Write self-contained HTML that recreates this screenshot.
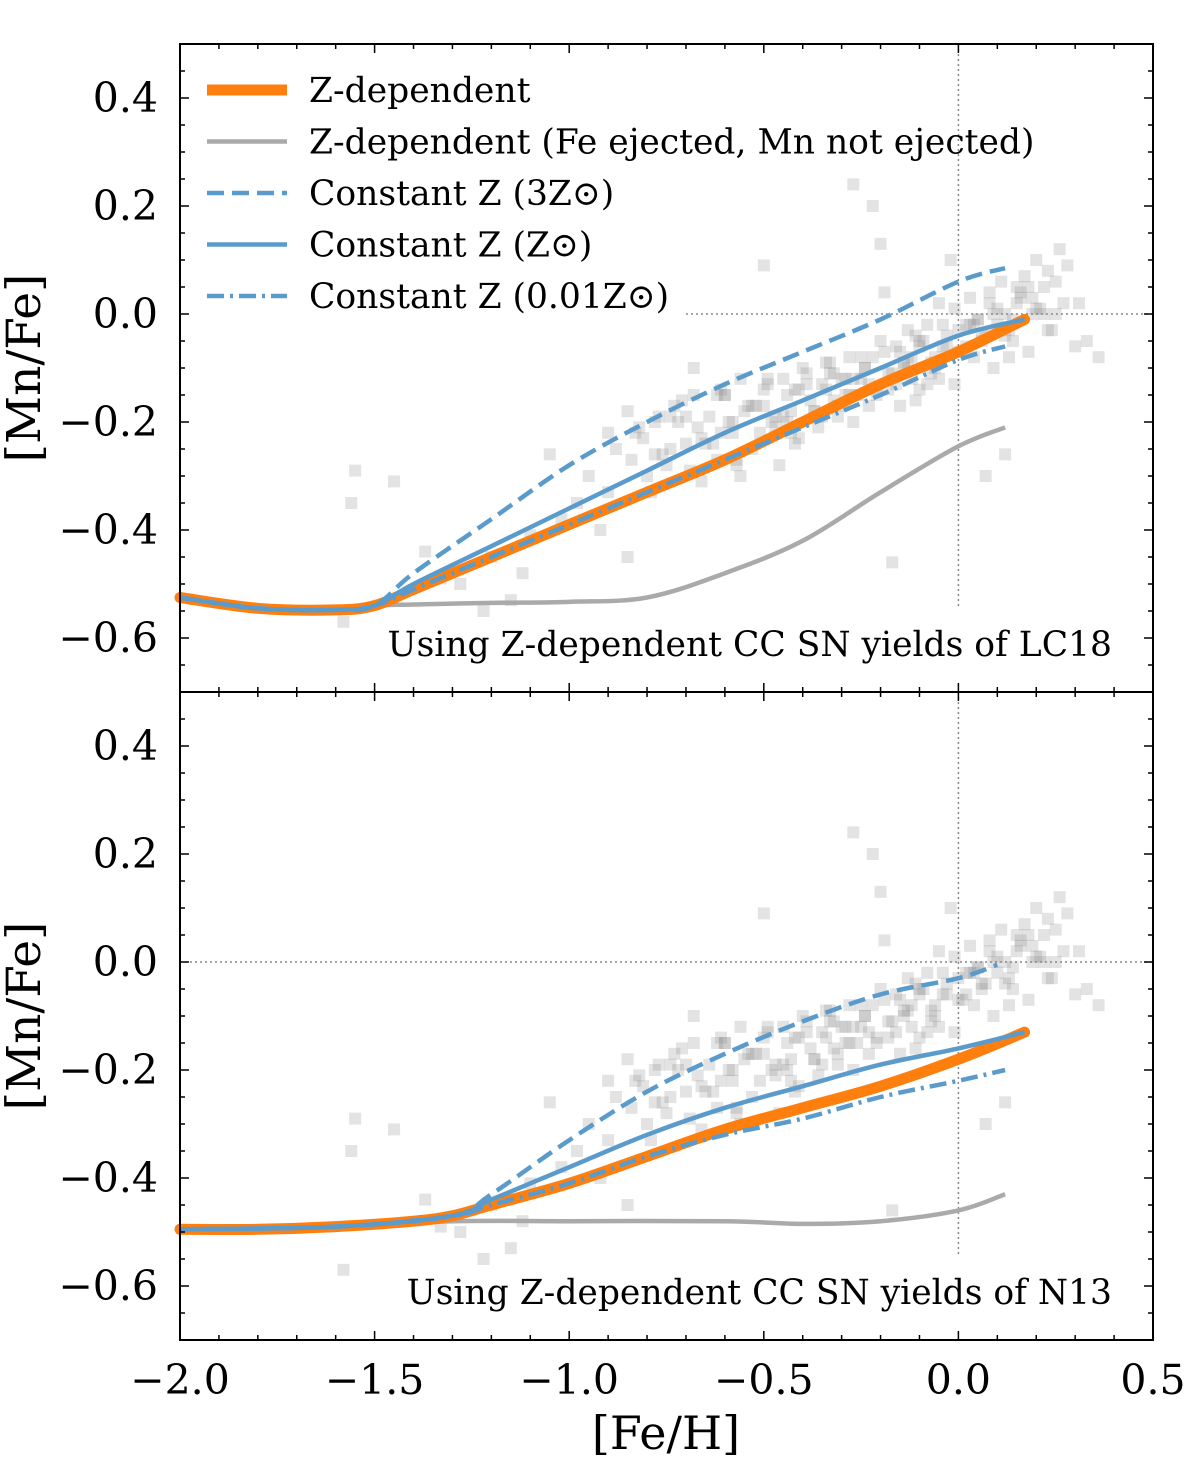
<!DOCTYPE html>
<html><head><meta charset="utf-8"><style>
body{margin:0;background:#fff}
svg text{font-family:"DejaVu Serif","Liberation Serif",serif;fill:#000}
</style></head><body>
<svg id="chart" width="1200" height="1472" viewBox="0 0 1200 1472" xmlns="http://www.w3.org/2000/svg"></svg>
<script>
const xTicks=[-2.0,-1.5,-1.0,-0.5,0.0,0.5];
const xTickLabels=["\u22122.0","\u22121.5","\u22121.0","\u22120.5","0.0","0.5"];
const yTicks=[0.4,0.2,0.0,-0.2,-0.4,-0.6];
const yTickLabels=["0.4","0.2","0.0","\u22120.2","\u22120.4","\u22120.6"];
const starFe=[-1.58,-1.56,-1.55,-1.45,-1.37,-1.33,-1.28,-1.22,-1.2,-1.15,-1.12,-1.1,-1.05,-1.02,-0.98,-0.95,-0.92,-0.9,-0.88,-0.85,-0.83,-0.8,-0.78,-0.75,-0.73,-0.7,-0.68,-0.66,-0.64,-0.62,-0.6,-0.58,-0.56,-0.55,-0.53,-0.5,-0.48,-0.46,-0.45,-0.43,-0.41,-0.4,-0.38,-0.36,-0.35,-0.33,-0.31,-0.3,-0.28,-0.27,-0.25,-0.23,-0.22,-0.2,-0.18,-0.17,-0.15,-0.13,-0.12,-0.1,-0.08,-0.07,-0.05,-0.04,-0.02,0.0,0.01,0.03,0.05,0.06,0.08,0.1,0.11,0.13,0.15,0.17,0.19,0.2,0.22,0.24,0.26,0.28,0.3,0.31,0.33,0.36,-0.27,-0.2,-0.19,-0.5,-0.15,-0.9,-0.85,-0.78,-0.72,-0.65,-0.6,-0.52,-0.47,-0.42,-0.35,-0.32,-0.26,-0.24,-0.16,-0.11,-0.06,-0.01,0.04,0.09,0.14,0.18,0.25,0.12,-0.1,0.07,
-0.84,-0.82,-0.79,-0.77,-0.74,-0.71,-0.69,-0.67,-0.63,-0.61,-0.59,-0.57,-0.54,-0.51,-0.49,-0.47,-0.44,-0.42,-0.39,-0.37,-0.34,-0.32,-0.29,-0.27,-0.24,-0.21,-0.19,-0.16,-0.14,-0.11,-0.09,-0.06,-0.03,-0.01,0.02,0.04,0.07,0.09,0.12,0.14,0.16,0.18,0.21,0.23,0.25,0.27,
-0.81,-0.76,-0.7,-0.66,-0.62,-0.58,-0.53,-0.49,-0.45,-0.41,-0.37,-0.33,-0.29,-0.25,-0.22,-0.18,-0.14,-0.1,-0.07,-0.03,0.0,0.03,0.06,0.1,0.13,0.16,0.2,0.23,
-0.74,-0.68,-0.61,-0.56,-0.5,-0.44,-0.39,-0.34,-0.28,-0.23,-0.17,-0.12,-0.08,-0.04,0.02,0.05,0.08,0.12,0.15,0.19,0.22,-0.57,-0.43,-0.31,-0.21,-0.13,-0.05];
const starMn=[-0.57,-0.35,-0.29,-0.31,-0.44,-0.49,-0.5,-0.55,-0.45,-0.53,-0.48,-0.41,-0.26,-0.38,-0.35,-0.3,-0.4,-0.33,-0.25,-0.45,-0.22,-0.3,-0.2,-0.28,-0.17,-0.24,-0.1,-0.31,-0.19,-0.27,-0.15,-0.22,-0.3,-0.18,-0.25,-0.14,-0.2,-0.28,-0.12,-0.18,-0.23,-0.1,-0.16,-0.21,-0.13,-0.09,-0.19,-0.12,-0.15,0.24,-0.08,-0.13,0.2,-0.05,-0.11,-0.46,-0.07,-0.03,-0.12,-0.05,-0.02,-0.09,0.02,-0.06,0.1,-0.03,-0.07,0.03,-0.01,-0.04,0.04,-0.02,0.06,-0.08,0.02,0.07,0.0,0.1,0.05,-0.03,0.12,0.09,-0.06,0.02,-0.05,-0.08,-0.12,0.13,0.04,0.09,-0.17,-0.22,-0.18,-0.26,-0.2,-0.24,-0.15,-0.17,-0.21,-0.14,-0.19,-0.11,-0.15,-0.1,-0.06,-0.04,-0.08,0.01,-0.02,0.0,-0.01,0.05,0.0,-0.26,-0.14,-0.3,
-0.27,-0.21,-0.33,-0.19,-0.25,-0.16,-0.29,-0.21,-0.24,-0.14,-0.2,-0.27,-0.17,-0.22,-0.12,-0.19,-0.15,-0.24,-0.13,-0.18,-0.09,-0.16,-0.12,-0.2,-0.1,-0.15,-0.07,-0.13,-0.09,-0.16,-0.05,-0.1,-0.06,-0.13,-0.02,-0.08,-0.04,-0.1,0.0,-0.05,0.03,-0.07,0.01,-0.03,0.06,0.02,
-0.23,-0.26,-0.19,-0.23,-0.15,-0.2,-0.17,-0.13,-0.19,-0.14,-0.18,-0.11,-0.15,-0.12,-0.08,-0.14,-0.1,-0.06,-0.11,-0.04,-0.07,-0.02,-0.05,0.01,-0.03,0.04,0.01,0.08,
-0.19,-0.15,-0.22,-0.12,-0.17,-0.2,-0.11,-0.14,-0.08,-0.17,-0.11,-0.08,-0.13,-0.02,-0.06,-0.01,0.02,-0.04,0.05,0.03,0.0,-0.28,-0.22,-0.17,-0.14,-0.09,-0.12];
const topX=[-2.0,-1.8,-1.6,-1.5,-1.4,-1.2,-1.0,-0.8,-0.6,-0.4,-0.2,0.0,0.17];
const topZdep=[-0.525,-0.545,-0.548,-0.54,-0.51,-0.45,-0.39,-0.33,-0.27,-0.2,-0.13,-0.07,-0.01];
const topGrayX=[-2.0,-1.8,-1.6,-1.5,-1.4,-1.2,-1.0,-0.8,-0.6,-0.4,-0.2,0.0,0.12];
const topGray=[-0.525,-0.545,-0.548,-0.54,-0.538,-0.535,-0.533,-0.525,-0.48,-0.42,-0.33,-0.245,-0.21];
const topBlueX=[-2.0,-1.8,-1.6,-1.5,-1.4,-1.2,-1.0,-0.8,-0.6,-0.4,-0.2,0.0,0.12];
const top3Z=[-0.525,-0.545,-0.548,-0.54,-0.48,-0.38,-0.28,-0.2,-0.13,-0.07,-0.01,0.06,0.085];
const topZsunX=[-2.0,-1.8,-1.6,-1.5,-1.4,-1.2,-1.0,-0.8,-0.6,-0.4,-0.2,0.0,0.17];
const topZsun=[-0.525,-0.545,-0.548,-0.54,-0.5,-0.43,-0.36,-0.29,-0.22,-0.16,-0.1,-0.04,-0.01];
const top001Z=[-0.525,-0.545,-0.548,-0.54,-0.51,-0.45,-0.39,-0.33,-0.27,-0.21,-0.15,-0.085,-0.06];
const botX=[-2.0,-1.8,-1.6,-1.4,-1.3,-1.2,-1.0,-0.8,-0.6,-0.4,-0.2,0.0,0.17];
const botZdep=[-0.495,-0.495,-0.49,-0.48,-0.47,-0.45,-0.41,-0.36,-0.31,-0.27,-0.23,-0.18,-0.13];
const botGrayX=[-2.0,-1.6,-1.3,-1.0,-0.6,-0.4,-0.2,0.0,0.12];
const botGray=[-0.495,-0.49,-0.48,-0.48,-0.48,-0.485,-0.48,-0.46,-0.43];
const botBlueX=[-2.0,-1.6,-1.3,-1.2,-1.0,-0.8,-0.6,-0.4,-0.2,0.0,0.1];
const bot3Z=[-0.495,-0.49,-0.47,-0.43,-0.33,-0.24,-0.17,-0.11,-0.06,-0.03,-0.005];
const botZsunX=[-2.0,-1.6,-1.3,-1.2,-1.0,-0.8,-0.6,-0.4,-0.2,0.0,0.17];
const botZsun=[-0.495,-0.49,-0.47,-0.44,-0.38,-0.32,-0.27,-0.23,-0.19,-0.16,-0.13];
const bot001ZX=[-2.0,-1.6,-1.3,-1.2,-1.0,-0.8,-0.6,-0.4,-0.2,0.0,0.12];
const bot001Z=[-0.495,-0.49,-0.47,-0.45,-0.41,-0.36,-0.32,-0.29,-0.25,-0.22,-0.2];

const NS="http://www.w3.org/2000/svg";
const svg=document.getElementById('chart');
const L=180,R=1153;
const xs=v=>L+(v+2.0)*(R-L)/2.5;
function mk(tag,attrs,parent){const e=document.createElementNS(NS,tag);for(const k in attrs)e.setAttribute(k,attrs[k]);(parent||svg).appendChild(e);return e;}
function smooth(xa,ya,ys){
  const p=xa.map((x,i)=>[xs(x),ys(ya[i])]);
  let d=`M${p[0][0]},${p[0][1]}`;
  for(let i=0;i<p.length-1;i++){
    const p0=p[i-1]||p[i],p1=p[i],p2=p[i+1],p3=p[i+2]||p2;
    d+=` C${p1[0]+(p2[0]-p0[0])/6},${p1[1]+(p2[1]-p0[1])/6} ${p2[0]-(p3[0]-p1[0])/6},${p2[1]-(p3[1]-p1[1])/6} ${p2[0]},${p2[1]}`;
  }
  return d;
}
function panel(name,top,series,hline,note){
  const bot=top+648;
  const ys=v=>top+(0.5-v)*540;
  const g=mk('g',{});
  
  
  starFe.forEach((f,i)=>{
    const r=mk('rect',{x:xs(f)-6,y:ys(starMn[i])-6,width:12,height:12,fill:'rgba(128,128,128,0.22)'},g);
    
    
  });
  const h=mk('line',{x1:xs(hline),x2:R,y1:ys(0),y2:ys(0),stroke:'#888','stroke-width':1.5,'stroke-dasharray':'2,3'},g);
  
  
  const v=mk('line',{x1:xs(0),x2:xs(0),y1:top,y2:ys(-0.545),stroke:'#888','stroke-width':1.5,'stroke-dasharray':'2,3'},g);
  
  
  series.forEach(s=>{
    const p=mk('path',Object.assign({d:smooth(s.x,s.y,ys),fill:'none'},s.st),g);
    
    
  });
  const fr=mk('rect',{x:L,y:top,width:R-L,height:648,fill:'none',stroke:'#000','stroke-width':2},g);
  
  
  for(let k=0;k<=25;k++){
    const x=xs(-2+k*0.1),len=(k%5==0)?9:5;
    mk('line',{x1:x,x2:x,y1:bot,y2:bot-len,stroke:'#000','stroke-width':1.5},g);
    mk('line',{x1:x,x2:x,y1:top,y2:top+len,stroke:'#000','stroke-width':1.5},g);
  }
  for(let k=0;k<=24;k++){
    const y=ys(0.5-k*0.05);
    const major=((0.5-k*0.05)*100).toFixed(0)%20===0;
    const ln=major?9:5;
    mk('line',{x1:L,x2:L+ln,y1:y,y2:y,stroke:'#000','stroke-width':1.5},g);
    mk('line',{x1:R,x2:R-ln,y1:y,y2:y,stroke:'#000','stroke-width':1.5},g);
  }
  yTicks.forEach((t,i)=>{
    const tx=mk('text',{x:158,y:ys(t)+14,'font-size':41,'text-anchor':'end'},g);
    tx.textContent=yTickLabels[i];
    
    
  });
  const yl=mk('text',{x:0,y:0,'font-size':47,'text-anchor':'middle',transform:`translate(40,${top+324}) rotate(-90)`},g);
  yl.textContent='[Mn/Fe]';
  
  
  const nt=mk('text',{x:1112,y:bot-36,'font-size':34.5,'text-anchor':'end'},g);
  nt.textContent=note;
  
  
}
const ORANGE={stroke:'#ff7f0e','stroke-width':11,'stroke-linecap':'round'};
const GRAY={stroke:'#aaaaaa','stroke-width':4.5};
const DASH={stroke:'#5a9bcc','stroke-width':4.5,'stroke-dasharray':'17,8'};
const SOLID={stroke:'#5a9bcc','stroke-width':4.5};
const DDOT={stroke:'#5a9bcc','stroke-width':4.5,'stroke-dasharray':'17,6,3,6'};
panel('top-panel-lc18',44,[
  {n:'z-dependent-fe-only-line',x:topGrayX,y:topGray,st:GRAY},
  {n:'z-dependent-line',x:topX,y:topZdep,st:ORANGE},
  {n:'constant-3zsun-line',x:topBlueX,y:top3Z,st:DASH},
  {n:'constant-zsun-line',x:topZsunX,y:topZsun,st:SOLID},
  {n:'constant-001zsun-line',x:topBlueX,y:top001Z,st:DDOT}
],-0.7,'Using Z-dependent CC SN yields of LC18');
panel('bottom-panel-n13',692,[
  {n:'z-dependent-fe-only-line',x:botGrayX,y:botGray,st:GRAY},
  {n:'z-dependent-line',x:botX,y:botZdep,st:ORANGE},
  {n:'constant-3zsun-line',x:botBlueX,y:bot3Z,st:DASH},
  {n:'constant-zsun-line',x:botZsunX,y:botZsun,st:SOLID},
  {n:'constant-001zsun-line',x:bot001ZX,y:bot001Z,st:DDOT}
],-2.0,'Using Z-dependent CC SN yields of N13');
xTicks.forEach((t,i)=>{
  const tx=mk('text',{x:xs(t),y:1394,'font-size':41,'text-anchor':'middle'});
  tx.textContent=xTickLabels[i];
  
  
});
const xl=mk('text',{x:666,y:1449,'font-size':46,'text-anchor':'middle'});
xl.textContent='[Fe/H]';


const leg=mk('g',{});


const legItems=[
  ['Z-dependent',{stroke:'#ff7f0e','stroke-width':11}],
  ['Z-dependent (Fe ejected, Mn not ejected)',GRAY],
  ['Constant Z (3Z\u2299)',DASH],
  ['Constant Z (Z\u2299)',SOLID],
  ['Constant Z (0.01Z\u2299)',DDOT]
];
legItems.forEach((it,i)=>{
  const y=90+i*51.5;
  const e=mk('g',{},leg);
  
  
  mk('line',Object.assign({x1:207,x2:287,y1:y,y2:y},it[1]),e);
  const t=mk('text',{x:309,y:y+12,'font-size':34.5},e);
  t.textContent=it[0];
});
</script>
</body></html>
